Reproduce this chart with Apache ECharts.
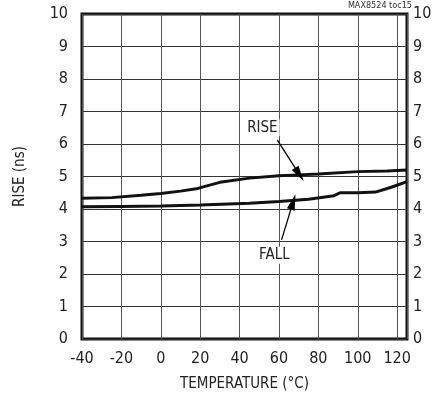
<!DOCTYPE html>
<html>
  <head>
    <meta charset="utf-8" />
    <title></title>
    <style type="text/css">
      html,
      body {
        margin: 0;
        width: 100%;
        height: 100%;
        background: #fff;
      }
      #main {
        width: 436px;
        height: 397px;
      }
    </style>
  </head>
  <body>
    <div id="main"></div>
    <script src="https://cdn.jsdelivr.net/npm/echarts@6/dist/echarts.min.js"></script>
    <script type="text/javascript">
      var FONT = "'Liberation Sans Narrow', 'DejaVu Sans Condensed', sans-serif";

      // 上升时间
      var riseTemp = [-40, -25, -10, 0, 10, 18, 22, 30, 45, 60, 70, 80, 100, 115, 125];
      var riseNs = [4.33, 4.35, 4.42, 4.48, 4.55, 4.62, 4.69, 4.82, 4.95, 5.02, 5.05, 5.08, 5.15, 5.17, 5.2];

      // 下降时间
      var fallTemp = [-40, -20, 0, 20, 45, 60, 75, 88, 91, 100, 109, 117, 125];
      var fallNs = [4.07, 4.08, 4.09, 4.12, 4.18, 4.23, 4.3, 4.41, 4.5, 4.5, 4.52, 4.67, 4.84];

      var xTicks = [-40, -20, 0, 20, 40, 60, 80, 100, 120];

      function pairs(xs, ys) {
        return xs.map(function (x, i) {
          return [x, ys[i]];
        });
      }

      var myChart = echarts.init(document.getElementById("main"));

      var labelStyle = {
        show: true,
        position: "inside",
        color: "#222",
        fontFamily: FONT,
        fontSize: 15,
        backgroundColor: "#fff",
        padding: [1, 2],
      };
      var arrowStyle = {
        silent: true,
        symbol: ["none", "path://M0,0L4,14L-4,14Z"],
        symbolSize: [8, 16],
        label: { show: false },
        lineStyle: { color: "#000", width: 1.3, type: "solid" },
      };

      var option = {
        animation: false,
        backgroundColor: "#fff",
        grid: {
          left: 82,
          right: 29,
          top: 14,
          bottom: 58,
          show: true,
          borderColor: "#111",
          borderWidth: 3,
        },
        title: {
          text: "MAX8524 toc15",
          right: 24,
          top: 0,
          padding: [1, 0],
          textStyle: { fontFamily: FONT, fontSize: 9, fontWeight: "normal", color: "#333" },
        },
        xAxis: {
          type: "value",
          min: -40,
          max: 125,
          interval: 20,
          name: "TEMPERATURE (°C)",
          nameLocation: "middle",
          nameGap: 38,
          nameTextStyle: { fontFamily: FONT, fontSize: 15, color: "#222" },
          axisLine: { show: false },
          axisTick: { show: false },
          axisLabel: {
            fontFamily: FONT,
            fontSize: 16,
            color: "#222",
            margin: 12,
            showMaxLabel: false,
            formatter: function (v) {
              return xTicks.indexOf(v) >= 0 ? String(v) : "";
            },
          },
          splitLine: { show: true, lineStyle: { color: "#555", width: 1 } },
        },
        yAxis: [
          {
            type: "value",
            min: 0,
            max: 10,
            interval: 1,
            name: "RISE (ns)",
            nameLocation: "middle",
            nameGap: 54,
            nameTextStyle: { fontFamily: FONT, fontSize: 15, color: "#222" },
            axisLine: { show: false },
            axisTick: { show: false },
            axisLabel: { fontFamily: FONT, fontSize: 16, color: "#222", margin: 14 },
            splitLine: { show: true, lineStyle: { color: "#333", width: 1 } },
          },
          {
            type: "value",
            position: "right",
            min: 0,
            max: 10,
            interval: 1,
            axisLine: { show: false },
            axisTick: { show: false },
            axisLabel: { fontFamily: FONT, fontSize: 16, color: "#222", margin: 6 },
            splitLine: { show: false },
          },
        ],
        series: [
          {
            name: "RISE",
            type: "line",
            showSymbol: false,
            data: pairs(riseTemp, riseNs),
            lineStyle: { color: "#111", width: 3 },
            markLine: Object.assign({}, arrowStyle, {
              data: [[{ coord: [59.2, 6.12] }, { coord: [70.4, 5.06] }]],
            }),
            markPoint: {
              silent: true,
              symbolSize: 0,
              label: labelStyle,
              data: [{ coord: [51.6, 6.5], value: "RISE" }],
            },
          },
          {
            name: "FALL",
            type: "line",
            showSymbol: false,
            data: pairs(fallTemp, fallNs),
            lineStyle: { color: "#111", width: 3 },
            markLine: Object.assign({}, arrowStyle, {
              data: [[{ coord: [61.3, 3.05] }, { coord: [67.2, 4.22] }]],
            }),
            markPoint: {
              silent: true,
              symbolSize: 0,
              label: labelStyle,
              data: [{ coord: [57.7, 2.58], value: "FALL" }],
            },
          },
        ],
      };

      myChart.setOption(option);
    </script>
  </body>
</html>
